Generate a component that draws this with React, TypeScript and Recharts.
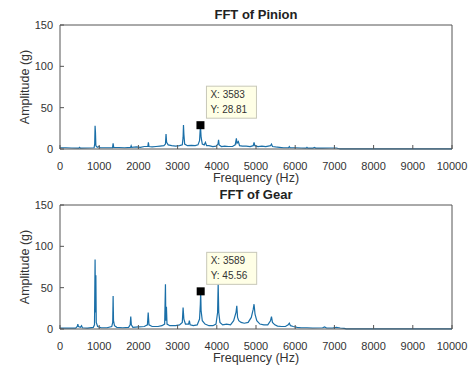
import React from "react";
import { LineChart, Line, XAxis, YAxis, ReferenceDot } from "recharts";

const frequencyTicks = [0, 1000, 2000, 3000, 4000, 5000, 6000, 7000, 8000, 9000, 10000];
const amplitudeTicks = [0, 50, 100, 150];

const pinionFreq = [0, 150, 300, 480, 500, 520, 700, 870, 885, 895, 905, 915, 950, 1000, 1020, 1150, 1340, 1355, 1370, 1500, 1650, 1800, 1815, 1830, 1950, 2050, 2150, 2240, 2255, 2270, 2350, 2450, 2550, 2650, 2690, 2705, 2720, 2760, 2850, 2950, 3050, 3120, 3140, 3150, 3160, 3180, 3250, 3350, 3450, 3520, 3560, 3583, 3600, 3630, 3680, 3710, 3740, 3800, 3900, 3980, 4030, 4045, 4060, 4120, 4200, 4300, 4400, 4470, 4500, 4515, 4550, 4580, 4650, 4750, 4850, 4930, 4950, 4970, 5050, 5150, 5250, 5370, 5395, 5420, 5500, 5600, 5700, 5830, 5850, 5870, 6000, 6150, 6280, 6300, 6320, 6450, 6500, 6520, 6700, 6900, 7050, 7100, 7150, 7500, 8000, 8500, 9000, 9500, 10000];
const pinionAmp = [1.5, 1.5, 1.2, 1, 2, 1, 1.2, 1.5, 6, 28, 20, 4, 2, 3, 1.5, 1.5, 1.5, 7, 2, 1.8, 1.5, 2, 4, 2, 2.5, 2, 3, 3, 8, 3, 2.5, 3, 3.5, 4, 6, 18, 8, 5, 4, 3.5, 4, 5, 14, 29, 18, 6, 4, 4.5, 4, 5, 10, 28.81, 14, 6, 5, 8, 4, 4, 3, 3.5, 6, 11, 5, 3, 3.5, 3, 3, 5, 13, 7, 9, 4, 3.5, 3.5, 3, 4, 8, 4, 3, 3.5, 3, 4, 6, 3, 2.5, 2, 1.5, 1.5, 3, 1.5, 1.5, 1.2, 1, 2, 1, 1, 1.8, 1, 1, 1.2, 1.2, 0.6, 0.2, 0.2, 0.2, 0.2, 0.2, 0.2, 0.2];

const gearFreq = [0, 200, 400, 440, 455, 470, 520, 550, 570, 700, 850, 880, 895, 905, 915, 925, 960, 1050, 1200, 1320, 1345, 1355, 1365, 1390, 1450, 1600, 1750, 1790, 1805, 1820, 1860, 2000, 2150, 2230, 2250, 2270, 2350, 2500, 2600, 2670, 2690, 2700, 2715, 2730, 2800, 2950, 3050, 3120, 3140, 3160, 3200, 3280, 3300, 3320, 3400, 3500, 3560, 3580, 3589, 3600, 3630, 3700, 3800, 3900, 3980, 4020, 4035, 4050, 4080, 4150, 4250, 4350, 4430, 4490, 4510, 4530, 4560, 4620, 4700, 4800, 4880, 4930, 4950, 4975, 5020, 5100, 5200, 5300, 5370, 5395, 5420, 5480, 5550, 5650, 5750, 5820, 5850, 5880, 5950, 6050, 6150, 6300, 6450, 6700, 6750, 6800, 6950, 7050, 7150, 7250, 7300, 8000, 9000, 10000];
const gearAmp = [1, 1, 1, 3, 6, 3, 2, 4, 1.5, 1, 2, 5, 84, 20, 65, 8, 3, 1.5, 1.5, 3, 8, 40, 10, 4, 2, 1.5, 2, 5, 15, 5, 2, 2.5, 3, 5, 20, 5, 3, 3, 4, 6, 54, 10, 27, 6, 4, 4, 5, 8, 26, 12, 6, 6, 10, 5, 4, 5, 12, 30, 45.56, 22, 10, 6, 4, 4, 6, 20, 55, 20, 8, 5, 6, 5, 10, 20, 28, 14, 10, 8, 7, 8, 14, 24, 30, 18, 10, 6, 5, 5, 10, 15, 8, 5, 3.5, 3, 3, 5, 7, 4, 3, 2, 1.5, 1.5, 1.2, 1.5, 2.5, 1.2, 1.2, 2, 1.2, 0.8, 0.2, 0.2, 0.2, 0.2];

const pinionMark = { x: 3583, y: 28.81, label: ["X: 3583", "Y: 28.81"] };
const gearMark = { x: 3589, y: 45.56, label: ["X: 3589", "Y: 45.56"] };

const FONT = '"Liberation Sans", Arial, sans-serif';
const AXIS = "#555";
const TEXT = "#333";
const LINE = "#1a6fa8";

const toRows = (f: number[], a: number[]) => f.map((v, i) => ({ f: v, a: a[i] }));

function MarkShape(props: any) {
  const { cx, cy, label } = props;
  if (cx == null || cy == null) return null;
  return (
    <g>
      <rect x={cx + 6} y={cy - 39} width={50} height={32} fill="#ffffe6" stroke="#c8c8b8" strokeWidth={1} />
      <text x={cx + 10} y={cy - 27} fontSize={10} fill={TEXT} fontFamily={FONT}>{label[0]}</text>
      <text x={cx + 10} y={cy - 12} fontSize={10} fill={TEXT} fontFamily={FONT}>{label[1]}</text>
      <rect x={cx - 4} y={cy - 4} width={8} height={8} fill="#000" />
    </g>
  );
}

function Panel({ title, rows, mark, top }: { title: string; rows: any[]; mark: any; top: number }) {
  const tickStyle = { fontSize: 11, fill: TEXT, fontFamily: FONT };
  return (
    <div style={{ position: "absolute", left: 0, top, width: 471, height: 186 }}>
      <div
        style={{
          position: "absolute",
          left: 60,
          width: 392,
          top: 7,
          textAlign: "center",
          fontFamily: FONT,
          fontWeight: "bold",
          fontSize: 13,
          color: "#222",
          lineHeight: "16px",
        }}
      >
        {title}
      </div>
      <LineChart width={471} height={186} data={rows} margin={{ top: 20, right: 14, bottom: 1, left: 20 }}>
        <XAxis
          xAxisId="b"
          type="number"
          dataKey="f"
          domain={[0, 10000]}
          ticks={frequencyTicks}
          interval={0}
          height={36}
          stroke={AXIS}
          tickSize={-4}
          tickMargin={17}
          tick={tickStyle}
          label={{ value: "Frequency (Hz)", position: "insideBottom", offset: 3, style: { fontSize: 12.5, fill: TEXT, fontFamily: FONT } }}
        />
        <XAxis
          xAxisId="t"
          orientation="top"
          type="number"
          dataKey="f"
          domain={[0, 10000]}
          ticks={frequencyTicks}
          interval={0}
          height={5}
          stroke={AXIS}
          tickSize={-4}
          tick={false}
        />
        <YAxis
          yAxisId="l"
          type="number"
          domain={[0, 150]}
          ticks={amplitudeTicks}
          interval={0}
          width={40}
          stroke={AXIS}
          tickSize={-4}
          tickMargin={11}
          tick={tickStyle}
          label={{ value: "Amplitude (g)", angle: -90, position: "insideLeft", offset: 5, style: { textAnchor: "middle", fontSize: 12.5, fill: TEXT, fontFamily: FONT } }}
        />
        <YAxis
          yAxisId="r"
          orientation="right"
          type="number"
          domain={[0, 150]}
          ticks={amplitudeTicks}
          interval={0}
          width={5}
          stroke={AXIS}
          tickSize={-4}
          tick={false}
        />
        <Line
          xAxisId="b"
          yAxisId="l"
          type="linear"
          dataKey="a"
          stroke={LINE}
          strokeWidth={1.2}
          dot={false}
          isAnimationActive={false}
        />
        <ReferenceDot
          xAxisId="b"
          yAxisId="l"
          x={mark.x}
          y={mark.y}
          r={4}
          shape={(p: any) => <MarkShape {...p} label={mark.label} />}
        />
      </LineChart>
    </div>
  );
}

export default function App() {
  return (
    <div style={{ position: "absolute", left: 0, top: 0, width: 471, height: 366, background: "#fff", overflow: "hidden" }}>
      <Panel title="FFT of Pinion" rows={toRows(pinionFreq, pinionAmp)} mark={pinionMark} top={0} />
      <Panel title="FFT of Gear" rows={toRows(gearFreq, gearAmp)} mark={gearMark} top={180} />
    </div>
  );
}
